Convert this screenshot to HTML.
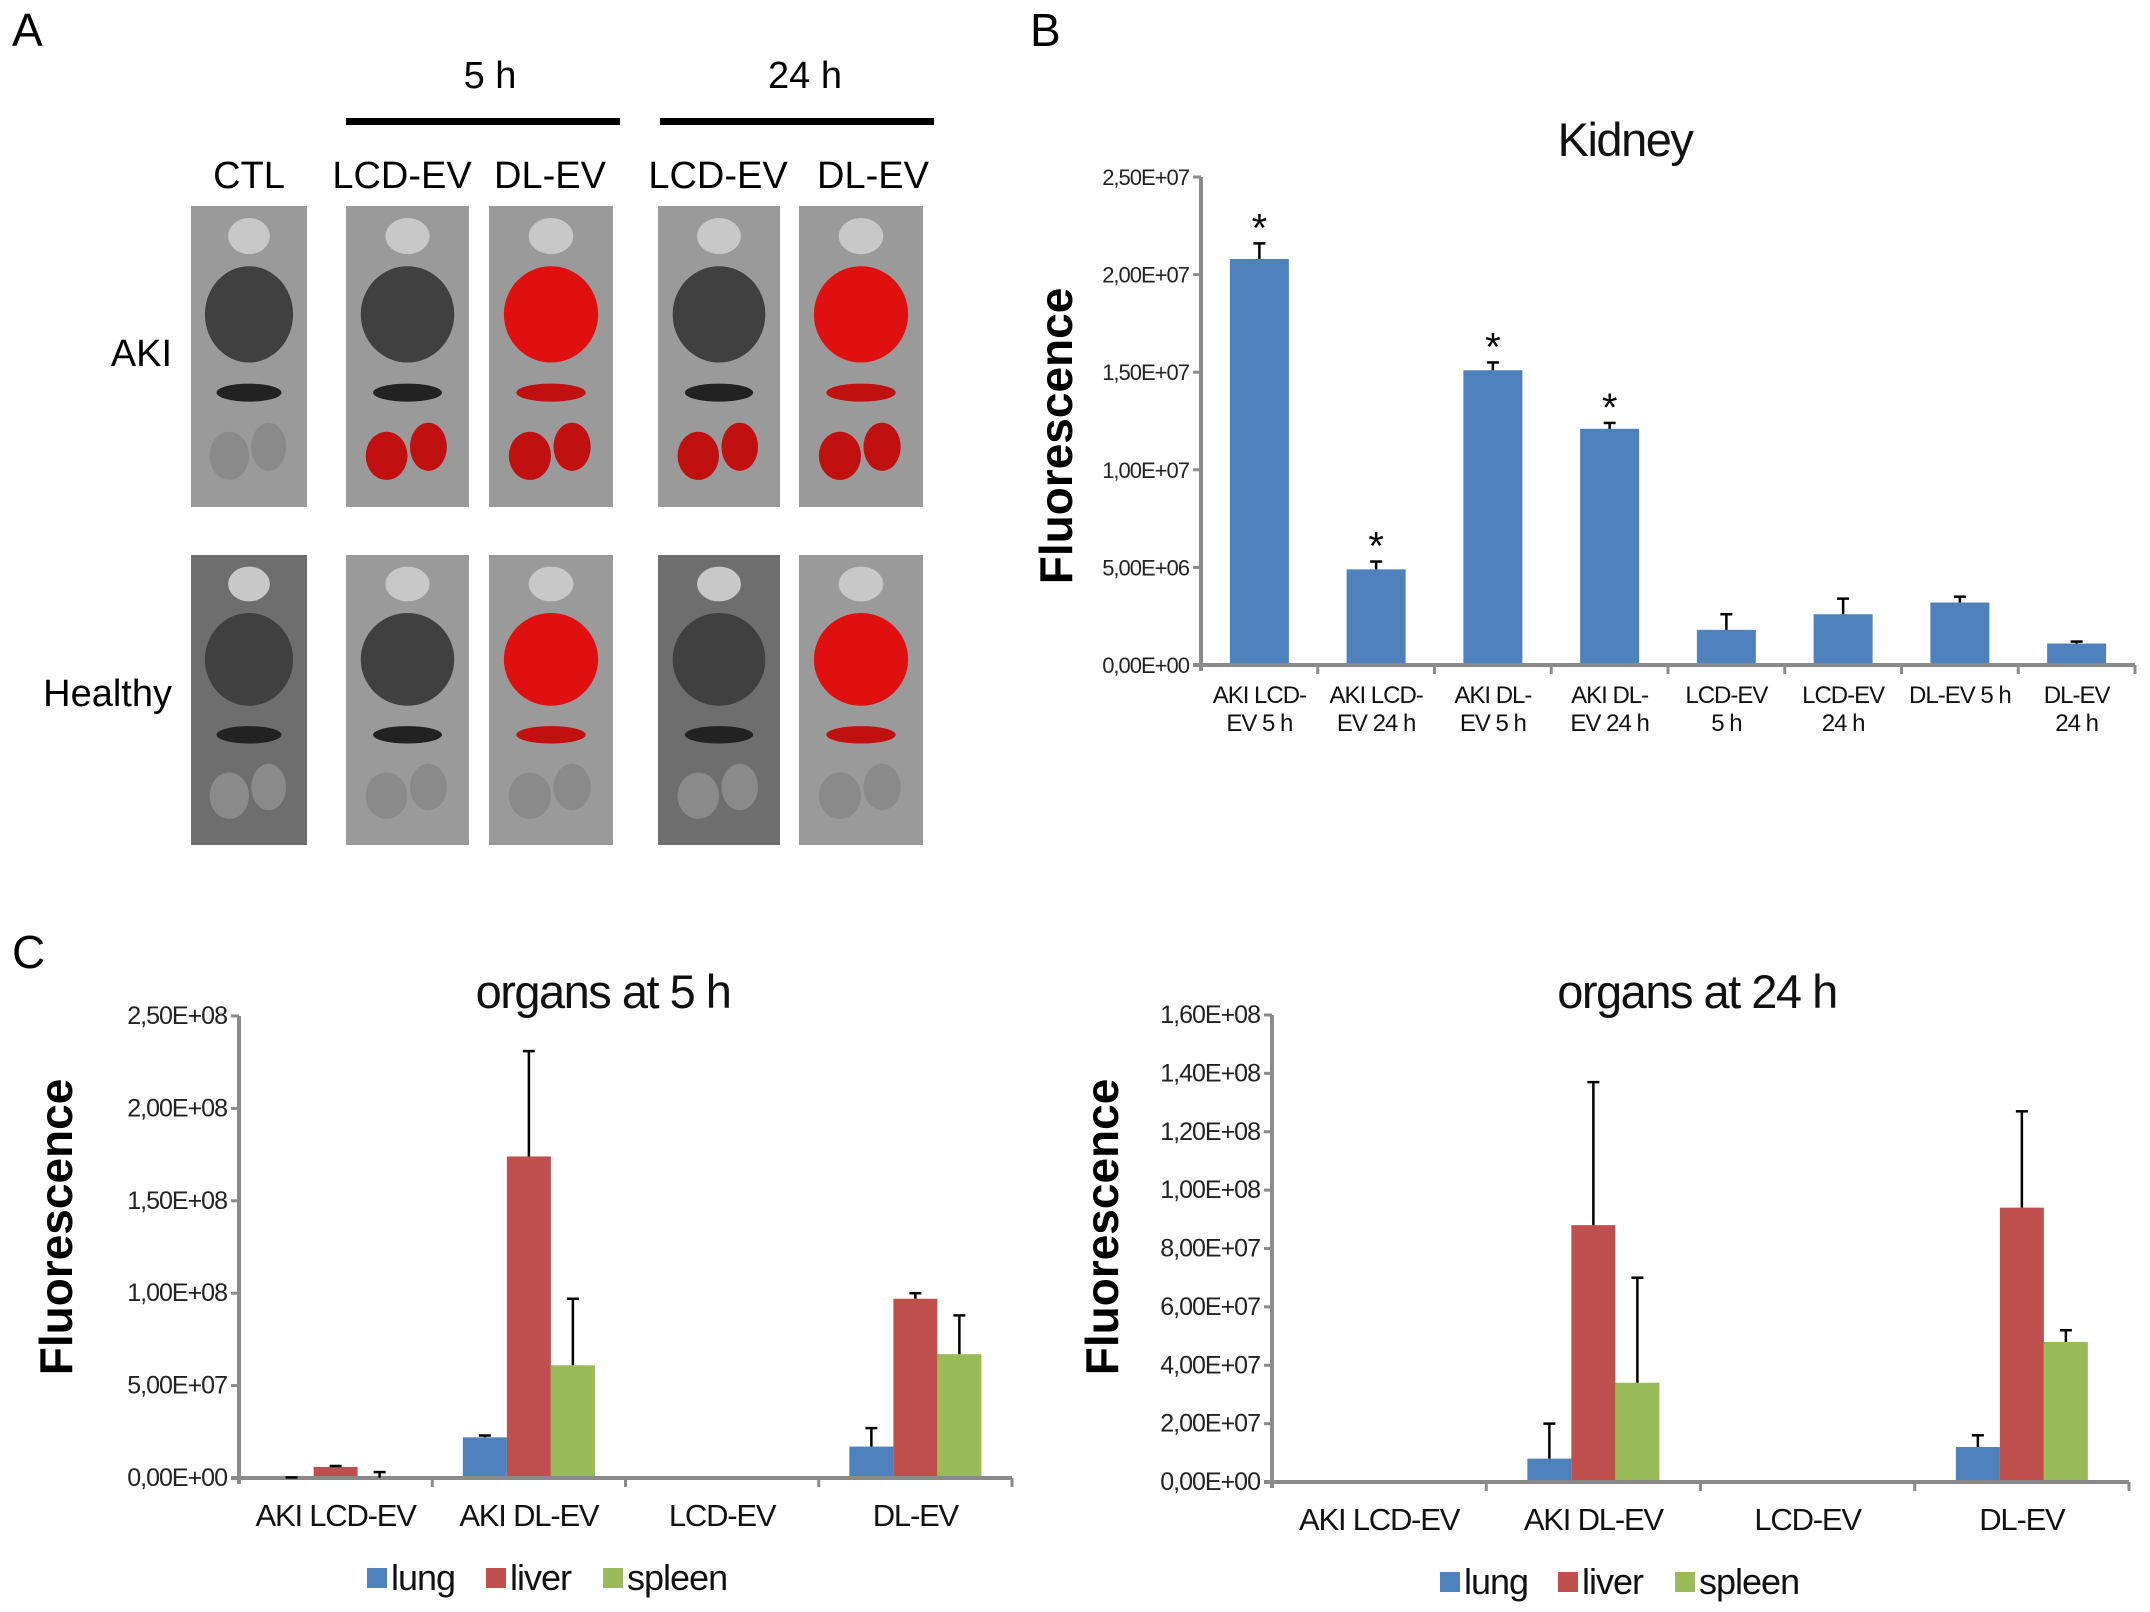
<!DOCTYPE html>
<html><head><meta charset="utf-8">
<style>
html,body{margin:0;padding:0;background:#fff;}
svg{display:block;font-family:"Liberation Sans",Arial,sans-serif;}
.tick{font-size:25px;fill:#222;letter-spacing:-1px;}
.ktick{font-size:22px;fill:#222;letter-spacing:-1px;}
.cat{font-size:31px;fill:#111;letter-spacing:-1.2px;}
.kcat{font-size:24px;fill:#111;letter-spacing:-1px;}
.ttl{font-size:47px;fill:#111;letter-spacing:-1.5px;}
.ylab{font-size:46px;font-weight:bold;fill:#000;}
.plab{font-size:46px;fill:#000;}
.alab{font-size:38px;fill:#000;}
</style></head>
<body>
<svg id="fig" width="2150" height="1612" viewBox="0 0 2150 1612" xmlns="http://www.w3.org/2000/svg">
  <g>
    <text class="plab" x="12" y="46">A</text>
    <text class="alab" x="490" y="88" text-anchor="middle">5 h</text>
    <rect x="346" y="118" width="274" height="7" fill="#000"/>
    <text class="alab" x="805" y="88" text-anchor="middle">24 h</text>
    <rect x="660" y="118" width="274" height="7" fill="#000"/>
    <text class="alab" x="249" y="188" text-anchor="middle">CTL</text>
    <text class="alab" x="402" y="188" text-anchor="middle">LCD-EV</text>
    <text class="alab" x="550" y="188" text-anchor="middle">DL-EV</text>
    <text class="alab" x="718" y="188" text-anchor="middle">LCD-EV</text>
    <text class="alab" x="873" y="188" text-anchor="middle">DL-EV</text>
    <text class="alab" x="172" y="366" text-anchor="end">AKI</text>
    <text class="alab" x="172" y="706" text-anchor="end">Healthy</text>
    <g id="photos"></g>
  </g>
  <g id="panelB">
    <text class="plab" x="1030" y="46">B</text>
    <text class="ttl" x="1625" y="156" text-anchor="middle">Kidney</text>
    <text class="ylab" transform="translate(1072,436) rotate(-90)" text-anchor="middle">Fluorescence</text>
  </g>
  <g id="panelC1">
    <text class="plab" x="12" y="968">C</text>
    <text class="ttl" x="603" y="1008" text-anchor="middle">organs at 5 h</text>
    <text class="ylab" transform="translate(72,1227) rotate(-90)" text-anchor="middle">Fluorescence</text>
  </g>
  <g id="panelC2">
    <text class="ttl" x="1697" y="1008" text-anchor="middle">organs at 24 h</text>
    <text class="ylab" transform="translate(1118,1227) rotate(-90)" text-anchor="middle">Fluorescence</text>
  </g>
</svg>
<script>
const kidneyCats1 = ["AKI LCD-","AKI LCD-","AKI DL-","AKI DL-","LCD-EV","LCD-EV","DL-EV 5 h","DL-EV"];
const kidneyCats2 = ["EV 5 h","EV 24 h","EV 5 h","EV 24 h","5 h","24 h","","24 h"];
const kidneyValues = [2.08e7, 0.49e7, 1.51e7, 1.21e7, 0.18e7, 0.26e7, 0.32e7, 0.11e7];
const kidneyErrors = [0.08e7, 0.04e7, 0.04e7, 0.03e7, 0.08e7, 0.08e7, 0.03e7, 0.01e7];
const kidneyStars = [true, true, true, true, false, false, false, false];
const kidneyTicks = ["0,00E+00","5,00E+06","1,00E+07","1,50E+07","2,00E+07","2,50E+07"];
const kidneyTickVals = [0, 5e6, 1e7, 1.5e7, 2e7, 2.5e7];

const organCats = ["AKI LCD-EV","AKI DL-EV","LCD-EV","DL-EV"];
const organSeries = ["lung","liver","spleen"];
const organs5hLung = [0.001e8, 0.22e8, 0.0e8, 0.17e8];
const organs5hLiver = [0.06e8, 1.74e8, 0.002e8, 0.97e8];
const organs5hSpleen = [0.002e8, 0.61e8, 0.002e8, 0.67e8];
const organs5hLungErr = [0.002e8, 0.01e8, 0, 0.10e8];
const organs5hLiverErr = [0.005e8, 0.57e8, 0, 0.03e8];
const organs5hSpleenErr = [0.03e8, 0.36e8, 0, 0.21e8];
const organs5hTicks = ["0,00E+00","5,00E+07","1,00E+08","1,50E+08","2,00E+08","2,50E+08"];
const organs5hTickVals = [0, 5e7, 1e8, 1.5e8, 2e8, 2.5e8];
const organs24hLung = [0, 0.8e7, 0, 1.2e7];
const organs24hLiver = [0, 8.8e7, 0.05e7, 9.4e7];
const organs24hSpleen = [0, 3.4e7, 0.05e7, 4.8e7];
const organs24hLungErr = [0, 1.2e7, 0, 0.4e7];
const organs24hLiverErr = [0, 4.9e7, 0, 3.3e7];
const organs24hSpleenErr = [0, 3.6e7, 0, 0.4e7];
const organs24hTicks = ["0,00E+00","2,00E+07","4,00E+07","6,00E+07","8,00E+07","1,00E+08","1,20E+08","1,40E+08","1,60E+08"];
const organs24hTickVals = [0,2e7,4e7,6e7,8e7,1e8,1.2e8,1.4e8,1.6e8];

const NS = "http://www.w3.org/2000/svg";
const COLORS = ["#4F81BD","#C0504D","#9BBB59"];
const AXIS = "#8a8a8a";
function mk(tag, attrs, parent){
  const e = document.createElementNS(NS, tag);
  for (const k in attrs) e.setAttribute(k, attrs[k]);
  parent.appendChild(e);
  return e;
}

function drawAxes(g, x0, x1, yTop, yBase, maxV, ticks, tickVals, nCat, prefix, tickCls){
  const yS = v => yBase - (v / maxV) * (yBase - yTop);
  const ya = mk("line", {x1:x0, y1:yTop, x2:x0, y2:yBase+6, stroke:AXIS, "stroke-width":4}, g);
  
  
  const xa = mk("line", {x1:x0-8, y1:yBase, x2:x1, y2:yBase, stroke:AXIS, "stroke-width":4}, g);
  
  
  tickVals.forEach((v, i) => {
    const y = yS(v);
    const tm = mk("line", {x1:x0-8, y1:y, x2:x0, y2:y, stroke:AXIS, "stroke-width":3}, g);
    
    
    const t = mk("text", {x:x0-12, y:y+8, "text-anchor":"end", class:tickCls}, g);
    t.textContent = ticks[i];
    
    
  });
  const cw = (x1 - x0) / nCat;
  for (let i = 1; i <= nCat; i++){
    const x = x0 + i * cw;
    const tm = mk("line", {x1:x, y1:yBase, x2:x, y2:yBase+9, stroke:AXIS, "stroke-width":3}, g);
    
    
  }
  return {yS, cw};
}

function errBar(g, x, yTopVal, yBar, name){
  const l = mk("line", {x1:x, y1:yTopVal, x2:x, y2:yBar, stroke:"#000", "stroke-width":2.5}, g);
  
  
  const c = mk("line", {x1:x-6, y1:yTopVal, x2:x+6, y2:yTopVal, stroke:"#000", "stroke-width":2.5}, g);
  
  
}

(function(){
  const g = document.getElementById("panelB");
  const x0 = 1201, x1 = 2135, yTop = 177, yBase = 665;
  const {yS, cw} = drawAxes(g, x0, x1, yTop, yBase, 2.5e7, kidneyTicks, kidneyTickVals, kidneyValues.length, 'kidney', 'ktick');
  const bw = 59;
  kidneyValues.forEach((v, i) => {
    const cx = x0 + (i + 0.5) * cw;
    const r = mk("rect", {x:cx-bw/2, y:yS(v), width:bw, height:yBase-yS(v)-2, fill:COLORS[0]}, g);
    
    
    errBar(g, cx, yS(v + kidneyErrors[i]), yS(v), 'kidney-error-bar-' + (i+1));
    if (kidneyStars[i]){
      const s = mk("text", {x:cx, y:yS(v + kidneyErrors[i]) - 2, "text-anchor":"middle", style:"font-size:40px;fill:#000"}, g);
      s.textContent = "*";
      
      
    }
    const t1 = mk("text", {x:cx, y:703, "text-anchor":"middle", class:"kcat"}, g);
    t1.textContent = kidneyCats1[i];
    
    
    const t2 = mk("text", {x:cx, y:731, "text-anchor":"middle", class:"kcat"}, g);
    t2.textContent = kidneyCats2[i];
    
    
  });
})();

function drawOrgans(gid, prefix, x0, x1, yTop, yBase, maxV, ticks, tickVals, vals, errs, legX, legY){
  const g = document.getElementById(gid);
  const {yS, cw} = drawAxes(g, x0, x1, yTop, yBase, maxV, ticks, tickVals, organCats.length, prefix, 'tick');
  const bw = 44;
  organCats.forEach((c, i) => {
    const cx = x0 + (i + 0.5) * cw;
    vals.forEach((arr, s) => {
      const bx = cx + (s - 1) * bw;
      const v = arr[i];
      if (v > 0){
        const r = mk("rect", {x:bx-bw/2, y:yS(v), width:bw, height:Math.max(0, yBase-yS(v)-2), fill:COLORS[s]}, g);
        
        
      }
      if (errs[s][i] > 0) errBar(g, bx, yS(v + errs[s][i]), yS(v), prefix + '-error-' + organSeries[s] + '-' + (i+1));
    });
    const t = mk("text", {x:cx, y:yBase + 48, "text-anchor":"middle", class:"cat"}, g);
    t.textContent = c;
    
    
  });
  organSeries.forEach((name, s) => {
    const lx = legX[s];
    const sq = mk("rect", {x:lx, y:legY-22, width:20, height:20, fill:COLORS[s]}, g);
    
    
    const t = mk("text", {x:lx+24, y:legY, style:"font-size:36px;fill:#111;letter-spacing:-1px"}, g);
    t.textContent = name;
    
    
  });
}
drawOrgans("panelC1", "organs-5h", 239, 1012, 1016, 1478, 2.5e8, organs5hTicks, organs5hTickVals,
  [organs5hLung, organs5hLiver, organs5hSpleen], [organs5hLungErr, organs5hLiverErr, organs5hSpleenErr],
  [367, 486, 603], 1590);
drawOrgans("panelC2", "organs-24h", 1272, 2129, 1015, 1482, 1.6e8, organs24hTicks, organs24hTickVals,
  [organs24hLung, organs24hLiver, organs24hSpleen], [organs24hLungErr, organs24hLiverErr, organs24hSpleenErr],
  [1440, 1558, 1675], 1594);

(function(){
  const g = document.getElementById("photos");
  const cols = [[191,116],[346,123],[489,124],[658,122],[799,124]];
  const rows = [[206,301],[555,290]];
  const red = [[false,false],[false,false],[true,true],[false,false],[true,true]];
  rows.forEach((rw, ri) => {
    cols.forEach((cl, ci) => {
      const [x, w] = cl, [y, h] = rw;
      const bg = mk("rect", {x:x, y:y, width:w, height:h, fill: (ci===0||ci===3) && ri===1 ? "#6e6e6e" : "#9a9a9a"}, g);
      
      
      const cx = x + w/2;
      const o1 = mk("ellipse", {cx:cx, cy:y+h*0.1, rx:w*0.18, ry:h*0.06, fill:"#c8c8c8"}, g);
      
      
      const liverRed = red[ci][ri];
      const o2 = mk("ellipse", {cx:cx, cy:y+h*0.36, rx:w*0.38, ry:h*0.16, fill: liverRed ? "#e01010" : "#404040"}, g);
      
      
      const o3 = mk("ellipse", {cx:cx, cy:y+h*0.62, rx:w*0.28, ry:h*0.03, fill: liverRed ? "#c01010" : "#222"}, g);
      
      
      const kidRed = ri === 0 && ci > 0;
      const o4 = mk("ellipse", {cx:cx-w*0.17, cy:y+h*0.83, rx:w*0.17, ry:h*0.08, fill: kidRed ? "#c01010" : "#8a8a8a"}, g);
      
      
      const o5 = mk("ellipse", {cx:cx+w*0.17, cy:y+h*0.8, rx:w*0.15, ry:h*0.08, fill: kidRed ? "#c01010" : "#8a8a8a"}, g);
      
      
    });
  });
})();
</script>
</body></html>
